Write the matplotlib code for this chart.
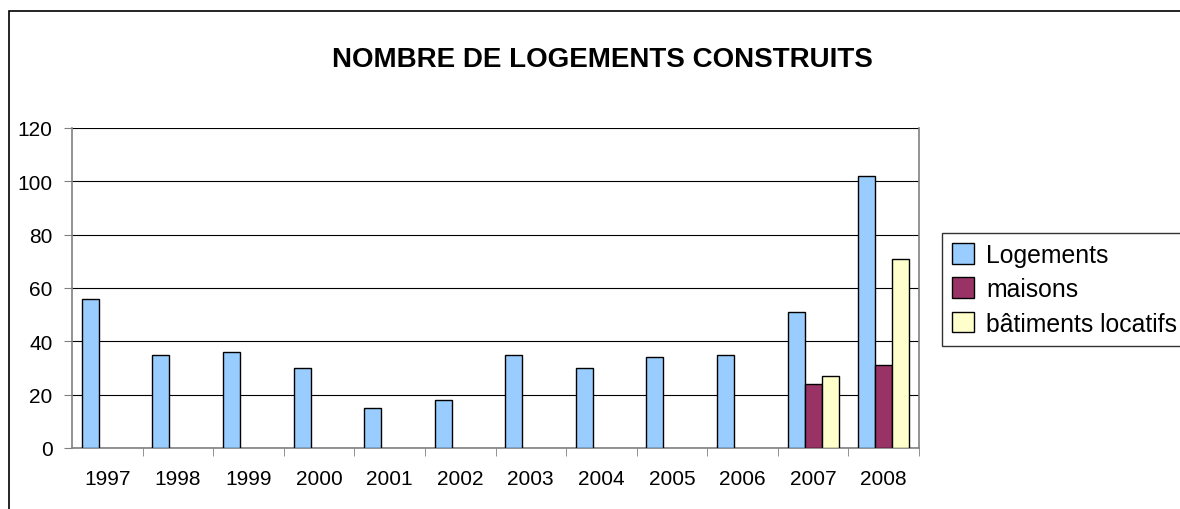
import numpy as np
import matplotlib
matplotlib.use("Agg")
import matplotlib.pyplot as plt
from matplotlib.patches import Rectangle

plt.rcParams['font.family'] = ['Liberation Sans', 'DejaVu Sans']

# données
annees = ['1997', '1998', '1999', '2000', '2001', '2002',
          '2003', '2004', '2005', '2006', '2007', '2008']
logements = [56, 35, 36, 30, 15, 18, 35, 30, 34, 35, 51, 102]
maisons = [None] * 10 + [24, 31]
locatifs = [None] * 10 + [27, 71]

series = [("Logements", logements, '#99CCFF'),
          ("maisons", maisons, '#993366'),
          ("bâtiments locatifs", locatifs, '#FFFFCC')]

fig = plt.figure(figsize=(11.8, 5.1), dpi=100)
ax = fig.add_axes([72/1180, 1 - 449/510, 847/1180, 320/510])

x = np.arange(len(annees))
w = 0.241
x0 = (1 - 3*w) / 2
for i, (nom, vals, coul) in enumerate(series):
    v = np.array(vals, dtype=float)
    ax.bar(x + x0 + i*w, v, width=w, align='edge', color=coul,
           edgecolor='black', linewidth=1, label=nom, zorder=3)

ax.set_xlim(0, len(annees))
ax.set_ylim(0, 120)
ax.set_yticks(np.arange(0, 121, 20))
ax.yaxis.grid(True, color='black', linewidth=0.8, zorder=0)
ax.set_axisbelow(True)

ax.set_xticks(x + 0.5)
ax.set_xticklabels(annees)
ax.set_xticks(np.arange(1, len(annees) + 1), minor=True)
ax.tick_params(axis='x', which='major', length=0, pad=15, labelsize=15)
ax.tick_params(axis='x', which='minor', length=6, direction='out', color='#808080')
ax.tick_params(axis='y', length=6, direction='out', color='#808080', pad=8, labelsize=15)

for s in ['left', 'bottom', 'right']:
    ax.spines[s].set_color('#808080')
    ax.spines[s].set_linewidth(1.2)
ax.spines['top'].set_visible(False)

fig.text(602/1180, 1 - 60/510, "NOMBRE DE LOGEMENTS CONSTRUITS",
         ha='center', va='center', fontsize=20, fontweight='bold')

leg = fig.legend(loc='upper left', bbox_to_anchor=(942/1180, 1 - 234/510),
                 bbox_transform=fig.transFigure, borderaxespad=0, fontsize=17.8,
                 frameon=True, fancybox=False, edgecolor='black',
                 handlelength=0.9, handleheight=0.9, handletextpad=0.5,
                 labelspacing=0.42, borderpad=0.4)
leg.get_frame().set_linewidth(1.0)

# cadre extérieur (haut et gauche)
fig.add_artist(Rectangle((9/1180, -0.2), 1.2, 1.2 - 12/510, transform=fig.transFigure,
                         fill=False, edgecolor='black', linewidth=1.2, clip_on=False))

fig.savefig('out.png', dpi=100)
